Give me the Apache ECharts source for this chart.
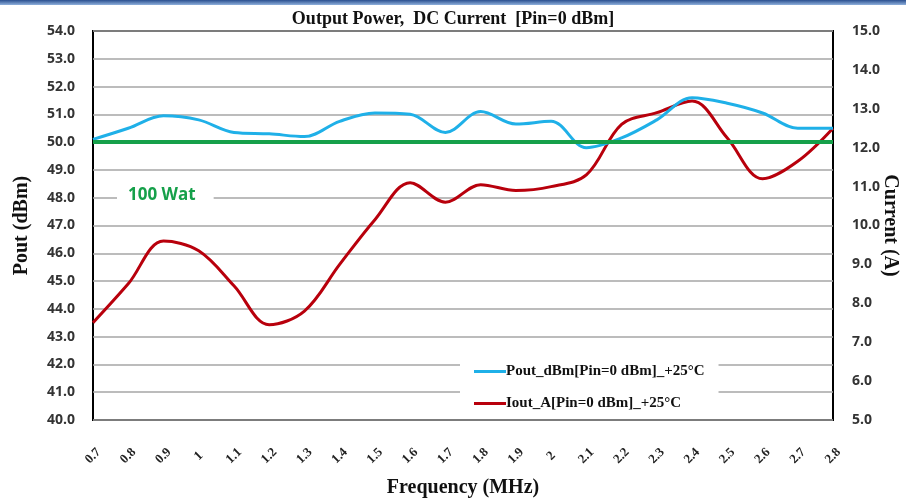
<!DOCTYPE html>
<html>
<head>
<meta charset="utf-8">
<script src="https://cdn.jsdelivr.net/npm/echarts@6/dist/echarts.min.js"></script>
<style>
    html, body {margin: 0; padding: 0; background: #fff;}
    #main {width: 906px; height: 498px;}
</style>
</head>
<body>
<div id="main"></div>
<script>
// 频率 (MHz)
var freq = ['0.7','0.8','0.9','1','1.1','1.2','1.3','1.4','1.5','1.6','1.7','1.8','1.9','2','2.1','2.2','2.3','2.4','2.5','2.6','2.7','2.8'];
// 输出功率 dBm
var pout = [50.1, 50.5, 50.95, 50.8, 50.35, 50.3, 50.2, 50.75, 51.05, 51.0, 50.35, 51.1, 50.65, 50.75, 49.8, 50.15, 50.8, 51.6, 51.4, 51.05, 50.5, 50.5];
// 电流 A
var iout = [7.5, 8.5, 9.6, 9.35, 8.45, 7.45, 7.8, 9.0, 10.15, 11.1, 10.6, 11.05, 10.9, 11.0, 11.3, 12.6, 12.9, 13.2, 12.25, 11.2, 11.65, 12.5];
// 100 W 参考线
var refLevel = 50;

var myChart = echarts.init(document.getElementById('main'));
var serif = '"Liberation Serif", "DejaVu Serif", serif';
var sans = '"Open Sans", "Liberation Sans", sans-serif';

var option = {
    animation: false,
    title: {
        text: 'Output Power,  DC Current  [Pin=0 dBm]',
        left: 'center',
        top: 5,
        textStyle: {fontFamily: serif, fontWeight: 'bold', fontSize: 18, color: '#111'}
    },
    graphic: [{
        type: 'rect',
        shape: {x: 0, y: 0, width: 906, height: 5},
        style: {fill: new echarts.graphic.LinearGradient(0, 0, 0, 1, [
            {offset: 0, color: '#2a4f8f'}, {offset: 1, color: '#8fb0dc'}])}
    }, {
        type: 'text',
        left: 117,
        top: 185,
        z: 10,
        style: {
            text: '100 Wat',
            fontFamily: sans, fontWeight: 'bold', fontSize: 17, fill: '#16a04a',
            backgroundColor: '#fff', padding: [2, 18, 2, 11]
        }
    }],
    legend: {
        orient: 'vertical',
        left: 460,
        top: 357,
        backgroundColor: '#fff',
        padding: [7, 14, 7, 14],
        itemGap: 17,
        itemWidth: 32,
        itemHeight: 3,
        icon: 'rect',
        textStyle: {fontFamily: serif, fontWeight: 'bold', fontSize: 15, color: '#111', padding: [0, 0, 0, -5]},
        data: ['Pout_dBm[Pin=0 dBm]_+25°C', 'Iout_A[Pin=0 dBm]_+25°C']
    },
    grid: {
        left: 93, right: 73, top: 31, bottom: 78,
        containLabel: false,
        outerBoundsMode: 'none',
        show: true, borderColor: '#000', borderWidth: 2
    },
    xAxis: {
        type: 'category',
        data: freq,
        boundaryGap: false,
        name: 'Frequency (MHz)',
        nameLocation: 'middle',
        nameGap: 58,
        nameTextStyle: {fontFamily: serif, fontWeight: 'bold', fontSize: 20, color: '#111'},
        axisLine: {show: false},
        axisTick: {show: false},
        axisLabel: {
            rotate: 45, margin: 36,
            align: 'center', verticalAlign: 'middle',
            fontFamily: serif, fontWeight: 'bold', fontSize: 13, color: '#222'
        }
    },
    yAxis: [{
        type: 'value',
        min: 40, max: 54, interval: 1,
        name: 'Pout (dBm)',
        nameLocation: 'middle',
        nameGap: 61,
        nameTextStyle: {fontFamily: serif, fontWeight: 'bold', fontSize: 20, color: '#111'},
        axisLine: {show: false},
        axisTick: {show: false},
        axisLabel: {
            margin: 18,
            formatter: function (v) { return v.toFixed(1); },
            fontFamily: sans, fontWeight: 'bold', fontSize: 14, color: '#333'
        },
        splitLine: {lineStyle: {color: '#a6a6a6', width: 1.5}}
    }, {
        type: 'value',
        min: 5, max: 15, interval: 1,
        name: 'Current (A)',
        nameLocation: 'middle',
        nameRotate: -90,
        nameGap: 47,
        nameMoveOverlap: false,
        nameTextStyle: {fontFamily: serif, fontWeight: 'bold', fontSize: 20, color: '#111'},
        axisLine: {show: false},
        axisTick: {show: false},
        axisLabel: {
            margin: 19,
            formatter: function (v) { return v.toFixed(1); },
            fontFamily: sans, fontWeight: 'bold', fontSize: 14, color: '#333'
        },
        splitLine: {show: false}
    }],
    series: [{
        name: 'Pout_dBm[Pin=0 dBm]_+25°C',
        type: 'line',
        yAxisIndex: 0,
        data: pout,
        smooth: 0.35,
        showSymbol: false,
        z: 4,
        itemStyle: {color: '#1fb0e8'},
        lineStyle: {color: '#1fb0e8', width: 3},
        markLine: {
            silent: true,
            symbol: 'none',
            label: {show: false},
            lineStyle: {color: '#16a04a', width: 4, type: 'solid'},
            data: [{yAxis: refLevel}]
        }
    }, {
        name: 'Iout_A[Pin=0 dBm]_+25°C',
        type: 'line',
        yAxisIndex: 1,
        data: iout,
        smooth: 0.35,
        showSymbol: false,
        z: 3,
        itemStyle: {color: '#b8000c'},
        lineStyle: {color: '#b8000c', width: 3}
    }]
};
myChart.setOption(option);
</script>
</body>
</html>
